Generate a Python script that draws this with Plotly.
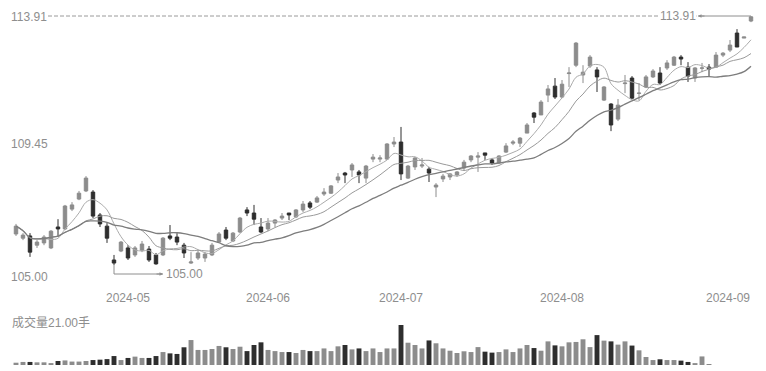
import plotly.graph_objects as go
import pandas as pd

# ---------------- data ----------------
dates = pd.bdate_range("2024-04-09", "2024-09-09", freq="C",
                       holidays=["2024-05-01", "2024-05-02", "2024-05-03", "2024-06-10"])
date_labels = [d.strftime("%Y-%m-%d") for d in dates]

open_ = [106.11, 105.96, 106.04, 105.71, 105.79, 105.61, 106.36, 106.29, 107.00, 107.36,
         107.65, 107.61, 106.79, 106.39, 105.18, 105.50, 105.61, 105.36, 105.53, 105.57,
         105.36, 105.36, 106.04, 106.00, 105.71, 105.07, 105.25, 105.25, 105.36, 105.82,
         106.25, 105.86, 106.18, 106.97, 106.86, 106.36, 106.29, 106.50, 106.68, 106.86,
         106.72, 106.97, 107.22, 107.25, 107.54, 107.57, 108.04, 108.29, 108.40, 108.33,
         108.11, 108.79, 108.79, 108.79, 109.33, 109.40, 108.11, 108.51, 108.54, 108.43,
         107.79, 108.08, 108.15, 108.22, 108.47, 108.76, 108.86, 109.01, 108.76, 108.65,
         109.04, 109.36, 109.36, 109.72, 110.44, 110.37, 111.08, 111.40, 111.01, 111.85,
         112.15, 111.80, 112.12, 111.98, 110.90, 110.76, 110.22, 111.49, 111.69, 111.14,
         111.37, 111.73, 111.87, 112.05, 112.15, 112.44, 112.08, 111.69, 112.04, 112.08,
         112.08, 112.51, 112.69, 113.30, 113.12, 113.73]
high = [106.47, 106.14, 106.14, 105.89, 106.07, 106.25, 106.64, 107.15, 107.25, 107.65,
        108.18, 107.68, 106.86, 106.50, 105.36, 105.86, 105.71, 105.68, 105.86, 105.68,
        105.43, 106.00, 106.43, 106.14, 105.79, 105.46, 105.53, 105.46, 105.79, 106.18,
        106.36, 106.18, 106.72, 107.07, 107.15, 106.68, 106.68, 106.64, 106.86, 106.86,
        107.00, 107.29, 107.29, 107.47, 107.75, 107.86, 108.29, 108.33, 108.65, 108.40,
        108.58, 108.97, 108.93, 109.36, 109.58, 109.94, 108.58, 108.86, 108.83, 108.51,
        107.93, 108.26, 108.29, 108.36, 108.76, 108.93, 109.04, 109.01, 108.83, 108.93,
        109.36, 109.47, 109.58, 110.08, 110.47, 110.90, 111.44, 111.69, 111.62, 112.08,
        112.98, 112.15, 112.51, 112.08, 111.40, 110.79, 110.94, 111.80, 111.76, 111.51,
        111.80, 112.01, 112.08, 112.33, 112.48, 112.51, 112.26, 112.08, 112.23, 112.19,
        112.62, 112.62, 113.05, 113.44, 113.16, 113.91]
low = [106.04, 105.89, 105.29, 105.61, 105.71, 105.57, 106.00, 106.25, 106.93, 107.32,
       107.61, 106.68, 106.36, 105.79, 105.00, 105.46, 105.18, 105.29, 105.46, 105.11,
       105.01, 105.32, 105.89, 105.71, 105.25, 105.04, 105.18, 105.11, 105.32, 105.79,
       105.89, 105.82, 106.14, 106.75, 106.43, 106.14, 106.21, 106.36, 106.61, 106.61,
       106.68, 106.89, 107.00, 107.22, 107.47, 107.54, 107.93, 107.93, 108.15, 107.93,
       107.93, 108.68, 108.68, 108.76, 109.22, 108.04, 108.08, 108.40, 108.47, 107.97,
       107.43, 107.97, 108.04, 108.15, 108.40, 108.68, 108.33, 108.76, 108.58, 108.61,
       109.01, 109.29, 109.22, 109.72, 110.08, 110.37, 110.83, 110.94, 110.97, 111.37,
       112.08, 111.51, 112.05, 111.19, 110.87, 109.79, 110.15, 111.15, 110.94, 110.90,
       111.33, 111.69, 111.44, 111.98, 112.12, 112.15, 111.55, 111.55, 111.90, 111.73,
       112.05, 112.44, 112.62, 112.80, 113.12, 113.69]
close = [106.39, 106.07, 105.46, 105.82, 106.00, 106.21, 106.29, 107.11, 107.15, 107.57,
         108.11, 106.75, 106.47, 105.96, 105.07, 105.82, 105.25, 105.61, 105.75, 105.18,
         105.04, 105.96, 105.96, 105.82, 105.43, 105.11, 105.43, 105.39, 105.71, 106.11,
         105.96, 106.14, 106.68, 106.86, 106.64, 106.18, 106.50, 106.61, 106.75, 106.79,
         106.97, 107.18, 107.07, 107.40, 107.61, 107.83, 108.15, 108.22, 108.58, 108.22,
         108.54, 108.86, 108.83, 109.33, 109.40, 108.26, 108.54, 108.83, 108.58, 108.29,
         107.86, 108.18, 108.26, 108.33, 108.68, 108.90, 108.90, 108.93, 108.65, 108.90,
         109.26, 109.40, 109.54, 110.01, 110.29, 110.83, 111.30, 111.01, 111.47, 111.87,
         112.94, 111.90, 112.44, 111.73, 111.37, 110.01, 110.72, 111.51, 110.97, 111.15,
         111.73, 111.94, 111.51, 112.23, 112.44, 112.37, 111.76, 112.05, 112.05, 112.01,
         112.51, 112.58, 112.87, 112.80, 113.16, 113.88]
volume = [1.2, 1.6, 1.6, 1.4, 1.4, 1.0, 2.1, 2.4, 1.8, 1.8,
          2.1, 2.6, 2.8, 3.1, 4.7, 2.6, 3.7, 4.4, 3.7, 3.7,
          4.7, 6.8, 6.1, 5.8, 9.3, 13.1, 7.9, 7.9, 8.4, 10.0,
          9.3, 8.4, 9.6, 7.3, 10.5, 11.9, 7.9, 7.3, 6.8, 6.8,
          6.3, 7.9, 7.3, 7.3, 8.7, 7.3, 9.8, 10.5, 8.2, 8.7,
          7.3, 8.7, 6.8, 8.7, 8.7, 21.0, 11.7, 10.5, 8.7, 12.9,
          11.4, 8.7, 7.5, 6.3, 7.2, 6.8, 9.4, 7.0, 6.5, 6.8,
          8.2, 6.8, 8.7, 10.5, 8.9, 7.5, 12.4, 10.3, 9.8, 11.9,
          12.1, 13.5, 9.4, 15.7, 12.8, 12.4, 10.7, 12.4, 10.2, 7.7,
          4.2, 2.6, 3.0, 2.6, 2.6, 2.3, 1.6, 1.0, 4.5, 0.3,
          0, 0, 0, 0, 0, 0]
ma_periods = [5, 10, 20]

# ---------------- styles ----------------
UP = "#8c8c8c"
DOWN = "#2e2e2e"
MA_COLORS = ["#ababab", "#9a9a9a", "#7d7d7d"]
TXT = "#8e8e8e"
MARK = "#8e8e8e"
FONT = "Liberation Sans, Noto Sans CJK SC, sans-serif"

W, H = 766, 371
ML, MR, MT, MB = 12, 11, 0, 6
plot_w = W - ML - MR
plot_h = H - MT - MB

idx = list(range(len(close)))
xr = [-0.571, len(close) - 1 + 0.571]
ppu = plot_w / (xr[1] - xr[0])

hi = max(high)
lo = min(low)
i_hi = high.index(hi)
i_lo = low.index(lo)

# price panel pixel layout
p_top, p_bot = 8, 288
hi_px, lo_px = 16, 265
k = (lo_px - hi_px) / (hi - lo)
yr = [lo - (p_bot - lo_px) / k, hi + (hi_px - p_top) / k]
price_dom = [(plot_h - p_bot) / plot_h, (plot_h - p_top) / plot_h]

v_top, v_base, v_max_px = 315, 365, 325
vmax = max(volume)
vol_dom = [(plot_h - v_base) / plot_h, (plot_h - v_top) / plot_h]
vr = [0, vmax * (v_base - v_top) / (v_base - v_max_px)]

colors = [UP if c >= o else DOWN for o, c in zip(open_, close)]
cs = pd.Series(close)
mas = [cs.rolling(n, min_periods=1).mean().tolist() for n in ma_periods]

fig = go.Figure()
fig.add_trace(go.Candlestick(
    x=idx, open=open_, high=high, low=low, close=close,
    increasing=dict(line=dict(color=UP, width=1), fillcolor=UP),
    decreasing=dict(line=dict(color=DOWN, width=1), fillcolor=DOWN),
    whiskerwidth=0, xaxis="x", yaxis="y", showlegend=False,
    text=date_labels, hoverinfo="text+y"))
for m, c, w in zip(mas, MA_COLORS, [1, 1, 1.3]):
    fig.add_trace(go.Scatter(x=idx, y=m, mode="lines",
                             line=dict(color=c, width=w, shape="spline", smoothing=1.0),
                             xaxis="x", yaxis="y", showlegend=False, hoverinfo="skip"))
fig.add_trace(go.Bar(x=idx, y=volume, marker=dict(color=colors, line=dict(width=0)),
                     width=0.7, xaxis="x2", yaxis="y2", showlegend=False))

# max dashed reference line
lab_w = 54
fig.add_shape(type="line", xref="x", yref="y", x0=xr[0], x1=i_hi - lab_w / ppu,
              y0=hi, y1=hi, line=dict(color="#9a9a9a", width=1, dash="4px,2px"), layer="below")
# max marker: solid connector from the candle to its label
fig.add_shape(type="line", xref="x", yref="y", xsizemode="pixel", xanchor=i_hi,
              x0=-lab_w + 1, x1=0, y0=hi, y1=hi, line=dict(color=MARK, width=1))

annotations = []
# left value labels (max, mid, min)
mid = (hi + lo) / 2
for val, ysh in [(hi, -1), (mid, -3.5), (lo, -12)]:
    annotations.append(dict(text=f"{val:.2f}", x=0, xref="paper", xanchor="left", xshift=-2,
                            y=val, yref="y", yanchor="middle", yshift=ysh, showarrow=False,
                            bgcolor="white", borderpad=0,
                            font=dict(family=FONT, size=12, color=TXT)))
# max marker arrowhead + label
annotations.append(dict(text="", x=i_hi, y=hi, xref="x", yref="y", xshift=-lab_w + 1,
                        showarrow=True, ax=8, ay=0, arrowhead=2, arrowsize=0.7,
                        arrowwidth=1, arrowcolor=MARK, standoff=0, startstandoff=0))
annotations.append(dict(text=f"{hi:.2f}", x=i_hi, y=hi, xref="x", yref="y", xanchor="right",
                        xshift=-lab_w, yanchor="middle", showarrow=False, bgcolor="white",
                        borderpad=0, font=dict(family=FONT, size=12, color=TXT)))
# min marker
drop = 9
run = 49
fig.add_shape(type="line", xref="x", yref="y", x0=i_lo, x1=i_lo, ysizemode="pixel",
              yanchor=lo, y0=0, y1=-drop, line=dict(color=MARK, width=1))
fig.add_shape(type="line", xref="x", yref="y", xsizemode="pixel", xanchor=i_lo,
              x0=0, x1=run, ysizemode="pixel", yanchor=lo, y0=-drop, y1=-drop,
              line=dict(color=MARK, width=1))
annotations.append(dict(text="", x=i_lo, y=lo, xref="x", yref="y", xshift=run, yshift=-drop,
                        showarrow=True, ax=-8, ay=0, arrowhead=2, arrowsize=0.7,
                        arrowwidth=1, arrowcolor=MARK, standoff=0, startstandoff=0))
annotations.append(dict(text=f"{lo:.2f}", x=i_lo, y=lo, xref="x", yref="y", xanchor="left",
                        xshift=run + 1, yshift=-drop, yanchor="middle", showarrow=False,
                        font=dict(family=FONT, size=12, color=TXT)))
# month labels
month_first = []
seen = set()
for i, d in enumerate(dates):
    key = d.strftime("%Y-%m")
    if key not in seen:
        seen.add(key)
        if i > 0:
            month_first.append((i, key))
xl_y = (plot_h - 298) / plot_h
for j, (i, key) in enumerate(month_first):
    last = j == len(month_first) - 1
    annotations.append(dict(text=key, x=(len(close) - 1) if last else i, xref="x",
                            xanchor="right" if last else "center", xshift=1 if last else 0,
                            y=xl_y, yref="paper", yanchor="middle", showarrow=False,
                            font=dict(family=FONT, size=12, color=TXT)))
# volume label
annotations.append(dict(text=f"成交量{vmax:.2f}手", x=0, xref="paper", xanchor="left", xshift=-2,
                        y=(plot_h - 322) / plot_h, yref="paper", yanchor="middle", showarrow=False,
                        font=dict(family=FONT, size=12, color=TXT)))

axis_off = dict(showgrid=False, zeroline=False, showticklabels=False, showline=False, ticks="")
fig.update_layout(
    width=W, height=H, margin=dict(l=ML, r=MR, t=MT, b=MB),
    paper_bgcolor="white", plot_bgcolor="white",
    xaxis=dict(domain=[0, 1], range=xr, anchor="y", rangeslider=dict(visible=False), **axis_off),
    yaxis=dict(domain=price_dom, range=yr, anchor="x", **axis_off),
    xaxis2=dict(domain=[0, 1], range=xr, anchor="y2", matches="x", **axis_off),
    yaxis2=dict(domain=vol_dom, range=vr, anchor="x2", **axis_off),
    annotations=annotations, bargap=0.3, boxgap=0.3,
    font=dict(family=FONT, size=12, color=TXT), hovermode=False,
)
fig.write_html("out.html", config={"displayModeBar": False, "staticPlot": True},
               post_script="document.body.style.margin='0';document.body.style.overflow='hidden';")
